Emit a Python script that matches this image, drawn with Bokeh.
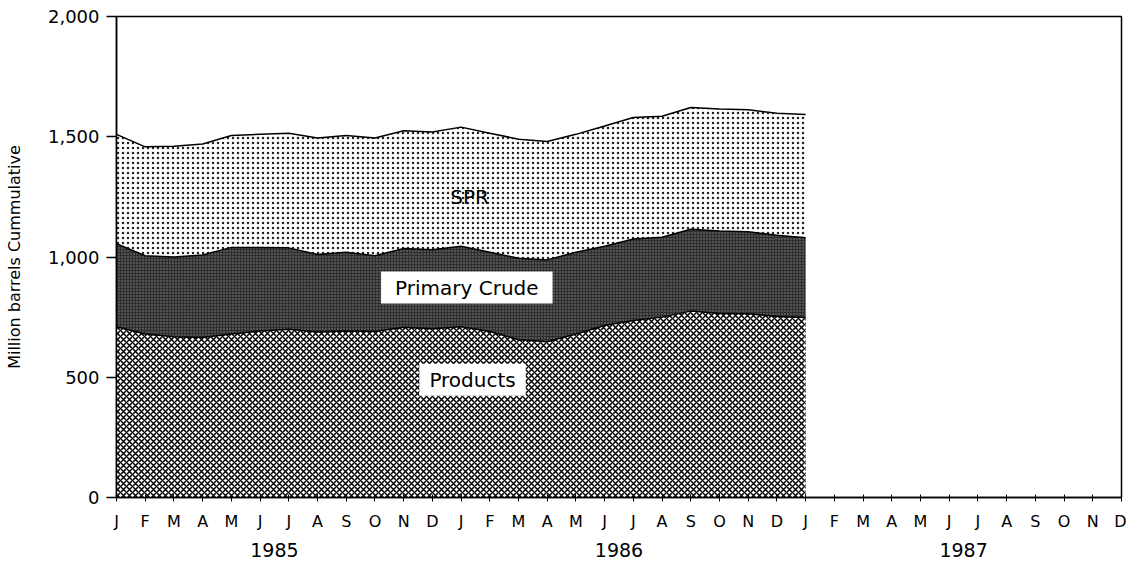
import numpy as np
from bokeh.plotting import figure
from bokeh.models import (Range1d, LinearAxis, FixedTicker, Label, ColumnDataSource,
                          NumeralTickFormatter)
from bokeh.embed import file_html
from bokeh.resources import INLINE

# ---- data (million barrels), monthly Jan 1985 .. Jan 1987 ----
month_letters = ["J", "F", "M", "A", "M", "J", "J", "A", "S", "O", "N", "D"] * 3
years = ["1985", "1986", "1987"]
products = [710, 680, 668, 665, 680, 692, 700, 688, 692, 690, 708, 702,
            710, 690, 656, 648, 680, 715, 736, 750, 775, 765, 764, 753, 748]
primary_crude = [345, 325, 332, 343, 360, 348, 338, 322, 328, 315, 327, 328,
                 335, 330, 339, 340, 340, 330, 339, 332, 340, 343, 341, 337, 332]
spr = [455, 453, 460, 462, 465, 470, 477, 485, 485, 490, 490, 490,
       495, 495, 495, 492, 490, 500, 505, 503, 507, 507, 507, 508, 512]
y_ticks = [0, 500, 1000, 1500, 2000]

x = np.arange(len(products))
p_top = np.array(products, dtype=float)
c_top = p_top + np.array(primary_crude)
s_top = c_top + np.array(spr)
src = ColumnDataSource(dict(x=x, zero=np.zeros(len(x)), p=p_top, c=c_top, s=s_top))

FONT = "DejaVu Sans"

p = figure(frame_width=1005, frame_height=481, output_backend="svg", toolbar_location=None,
           x_range=Range1d(0, 35), y_range=Range1d(0, 2000),
           min_border_left=116, min_border_top=16, min_border_right=5, min_border_bottom=0,
           x_axis_type=None)
p.background_fill_color = "white"
p.border_fill_color = "white"
p.outline_line_color = "black"
p.outline_line_width = 1.5
p.xgrid.visible = False
p.ygrid.visible = False

# areas
p.varea(x="x", y1="zero", y2="p", source=src, fill_color="white",
        hatch_pattern="diagonal_cross", hatch_color="black", hatch_scale=6, hatch_weight=1.5)
p.varea(x="x", y1="p", y2="c", source=src, fill_color="#2e2e2e",
        hatch_pattern="dot", hatch_color="#8a8a8a", hatch_scale=3, hatch_weight=1)
p.varea(x="x", y1="c", y2="s", source=src, fill_color="white",
        hatch_pattern="dot", hatch_color="#222222", hatch_scale=5, hatch_weight=1.1)
for col in ["p", "c", "s"]:
    p.line(x="x", y=col, source=src, line_color="black", line_width=1.5)

# y axis
ya = p.yaxis[0]
ya.ticker = FixedTicker(ticks=y_ticks)
ya.formatter = NumeralTickFormatter(format="0,0")
ya.minor_tick_line_color = None
ya.major_tick_out = 10
ya.major_tick_in = 0
ya.major_label_standoff = 7
ya.axis_line_width = 1.5
ya.major_tick_line_width = 1.5
ya.major_label_text_font = FONT
ya.major_label_text_font_size = "18px"
ya.major_label_text_color = "black"
ya.axis_label = "Million barrels Cummulative"
ya.axis_label_text_font = FONT
ya.axis_label_text_font_size = "16px"
ya.axis_label_text_font_style = "normal"
ya.axis_label_text_color = "black"
ya.axis_label_standoff = 21

# month axis
xa = LinearAxis(ticker=FixedTicker(ticks=list(range(36))),
                major_label_overrides={i: m for i, m in enumerate(month_letters)})
xa.minor_tick_line_color = None
xa.major_tick_out = 4
xa.major_tick_in = 3
xa.major_label_standoff = 10
xa.axis_line_width = 1.5
xa.major_label_text_font = FONT
xa.major_label_text_font_size = "16px"
xa.major_label_text_color = "black"
p.add_layout(xa, "below")

# year axis
yr = LinearAxis(ticker=FixedTicker(ticks=[5.5, 17.5, 29.5]),
                major_label_overrides={5.5: years[0], 17.5: years[1], 29.5: years[2]})
yr.axis_line_color = None
yr.major_tick_line_color = None
yr.minor_tick_line_color = None
yr.major_label_standoff = 3
yr.major_label_text_font = FONT
yr.major_label_text_font_size = "19px"
yr.major_label_text_color = "black"
p.add_layout(yr, "below")

# labels
p.add_layout(Label(x=12.3, y=1250, text="SPR", text_align="center", text_baseline="middle",
                   text_font=FONT, text_font_size="20px", text_color="black"))
p.add_layout(Label(x=12.2, y=873, text="Primary Crude", text_align="center", text_baseline="middle",
                   text_font=FONT, text_font_size="20px", text_color="black",
                   background_fill_color="white",
                   padding=dict(left=14, right=14, top=4, bottom=4)))
p.add_layout(Label(x=12.4, y=490, text="Products", text_align="center", text_baseline="middle",
                   text_font=FONT, text_font_size="20px", text_color="black",
                   background_fill_color="white",
                   padding=dict(left=10, right=10, top=4, bottom=4)))

open("out.html", "w").write(file_html(p, INLINE))
